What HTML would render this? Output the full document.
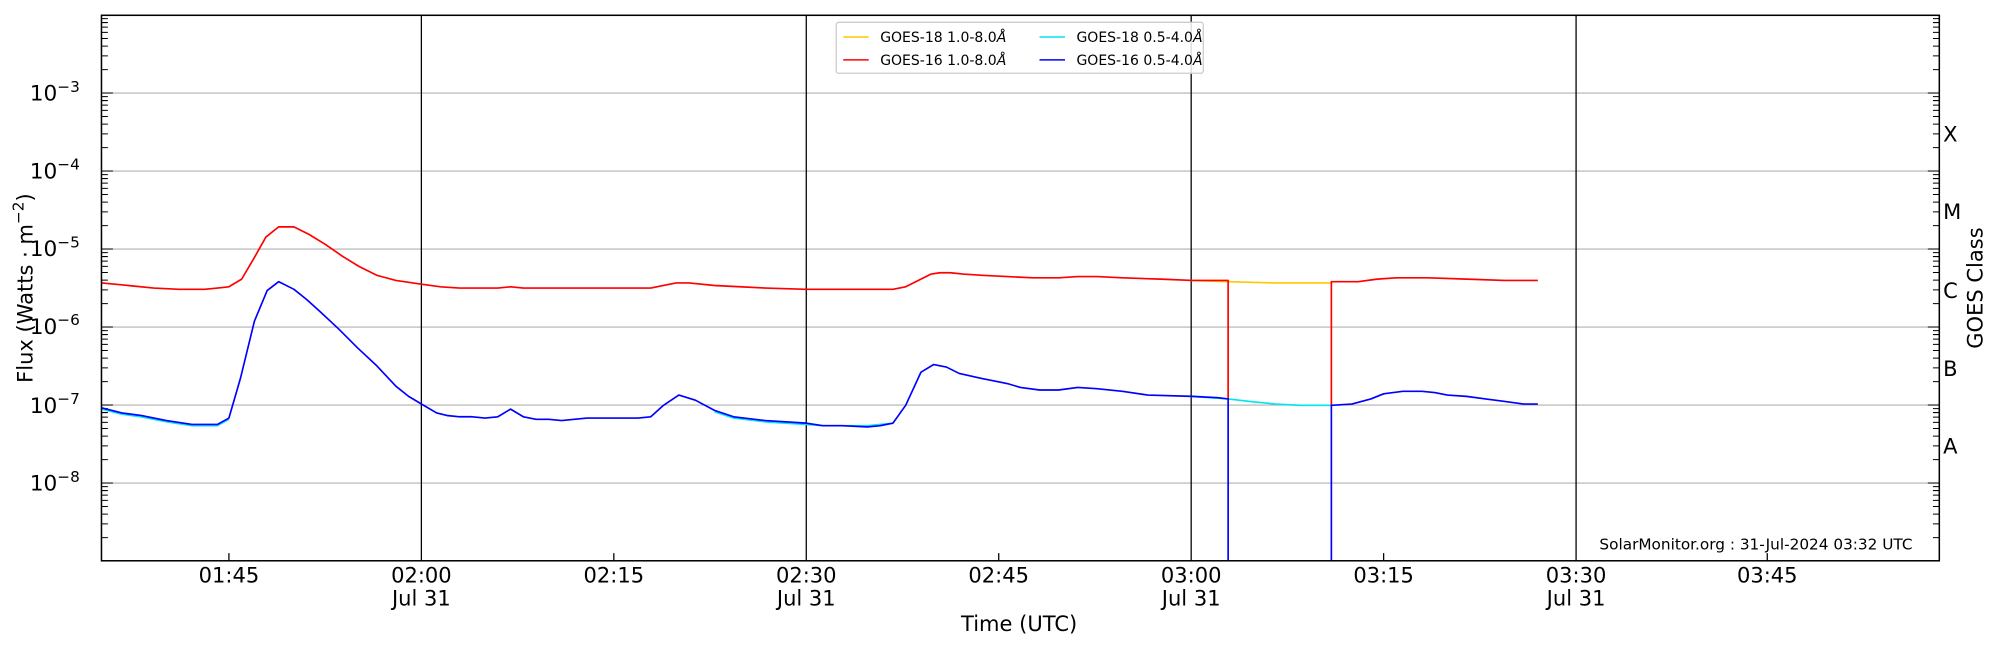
<!DOCTYPE html>
<html><head><meta charset="utf-8"><style>
html,body{margin:0;padding:0;background:#fff;}
svg{display:block;font-family:"DejaVu Sans","Liberation Sans",sans-serif;}
</style></head><body>
<svg id="s" width="2000" height="650" viewBox="0 0 1568 510" xmlns="http://www.w3.org/2000/svg">
<rect width="1568" height="510" fill="#fff"/>
<g stroke="#b0b0b0" stroke-width="0.9">
<line x1="79" x2="1521" y1="73" y2="73"/><line x1="79" x2="1521" y1="134.2" y2="134.2"/>
<line x1="79" x2="1521" y1="195.4" y2="195.4"/><line x1="79" x2="1521" y1="256.6" y2="256.6"/>
<line x1="79" x2="1521" y1="317.8" y2="317.8"/><line x1="79" x2="1521" y1="379" y2="379"/>
</g>
<g stroke="#000" stroke-width="1">
<line x1="330" x2="330" y1="12" y2="440"/><line x1="632" x2="632" y1="12" y2="440"/>
<line x1="934" x2="934" y1="12" y2="440"/><line x1="1236" x2="1236" y1="12" y2="440"/>
<line x1="179" x2="179" y1="440" y2="434"/><line x1="481" x2="481" y1="440" y2="434"/>
<line x1="783" x2="783" y1="440" y2="434"/><line x1="1085" x2="1085" y1="440" y2="434"/>
<line x1="1386" x2="1386" y1="440" y2="434"/>
</g>
<g id="ticks" stroke="#000" stroke-width="0.8"></g>
<g fill="none" stroke-width="1.3" stroke-linejoin="round">
<polyline stroke="#ffc800" points="934,220 963,221 980,221.5 1000,222 1020,222 1044,222"/>
<polyline stroke="#00e5ee" points="79,321 95,325 110,327 130,331 150,334 170,334 179,329"/>
<polyline stroke="#00e5ee" points="560,323 575,328 600,331 632,333 645,334 660,334 680,334 700,332"/>
<polyline stroke="#00e5ee" points="934,311 963,313 980,315 1000,317 1020,318 1044,318"/>
<polyline stroke="#ff0000" points="79,222 100,224 120,226 140,227 160,227 170,226 179,225 189,219 199,202 208,186 218,178 230,178 242,184 255,192 268,201 281,209 295,216 310,220 330,223 345,225 360,226 375,226 390,226 400,225 410,226 430,226 460,226 480,226 510,226 520,224 530,222 540,222 560,224 580,225 600,226 632,227 660,227 700,227 710,225 720,220 730,215 737,214 745,214 755,215 770,216 790,217 810,218 830,218 845,217 860,217 880,218 910,219 935,220 963,220 963,313"/>
<polyline stroke="#ff0000" points="1044,318 1044,221 1065,221 1080,219 1095,218 1120,218 1150,219 1180,220 1206,220"/>
<polyline stroke="#0000ff" points="79,320 95,324 110,326 130,330 150,333 170,333 179,328 188,297 199,252 209,228 218,221 230,227 240,235 250,244 265,258 280,273 295,287 310,303 320,311 330,317 342,324 350,326 360,327 370,327 380,328 390,327 400,321 410,327 420,329 430,329 440,330 450,329 460,328 480,328 500,328 510,327 520,318 532,310 545,314 560,322 575,327 600,330 632,332 645,334 660,334 680,335 690,334 700,332 710,318 722,292 732,286 742,288 752,293 770,297 790,301 800,304 815,306 830,306 845,304 860,305 880,307 900,310 935,311 955,312 963,313 963,440"/>
<polyline stroke="#0000ff" points="1044,440 1044,318 1060,317 1075,313 1085,309 1100,307 1115,307 1125,308 1135,310 1150,311 1165,313 1180,315 1195,317 1206,317"/>
</g>
<rect x="79" y="12" width="1442" height="428" fill="none" stroke="#000" stroke-width="1.2"/>
<g font-size="17" text-anchor="end" fill="#000">
<text x="62" y="79">10<tspan font-size="12" dy="-7">−3</tspan></text>
<text x="62" y="140">10<tspan font-size="12" dy="-7">−4</tspan></text>
<text x="62" y="201">10<tspan font-size="12" dy="-7">−5</tspan></text>
<text x="62" y="262">10<tspan font-size="12" dy="-7">−6</tspan></text>
<text x="62" y="324">10<tspan font-size="12" dy="-7">−7</tspan></text>
<text x="62" y="385">10<tspan font-size="12" dy="-7">−8</tspan></text>
</g>
<g font-size="16.5" text-anchor="middle" fill="#000">
<text x="179" y="457">01:45</text>
<text x="330" y="457">02:00</text><text x="330" y="475">Jul 31</text>
<text x="481" y="457">02:15</text>
<text x="632" y="457">02:30</text><text x="632" y="475">Jul 31</text>
<text x="783" y="457">02:45</text>
<text x="934" y="457">03:00</text><text x="934" y="475">Jul 31</text>
<text x="1085" y="457">03:15</text>
<text x="1236" y="457">03:30</text><text x="1236" y="475">Jul 31</text>
<text x="1386" y="457">03:45</text>
<text x="799" y="495">Time (UTC)</text>
<text transform="translate(25,226) rotate(-90)">Flux (Watts · m<tspan font-size="12" dy="-7">−2</tspan><tspan dy="7">)</tspan></text>
<text transform="translate(1555,226) rotate(-90)">GOES Class</text>
</g>
<g font-size="16.5" fill="#000">
<text x="1524" y="111">X</text><text x="1524" y="172">M</text><text x="1524" y="234">C</text>
<text x="1524" y="295">B</text><text x="1524" y="356">A</text>
</g>
<text x="1500" y="431" font-size="12" text-anchor="end">SolarMonitor.org : 31-Jul-2024 03:32 UTC</text>
<rect x="655.5" y="17.5" width="288" height="40" fill="#fff" fill-opacity="0.85" stroke="#ccc" rx="2"/>
<g stroke-width="1.2">
<line x1="661" x2="681" y1="29" y2="29" stroke="#ffc800"/>
<line x1="661" x2="681" y1="47" y2="47" stroke="#ff0000"/>
<line x1="815" x2="835" y1="29" y2="29" stroke="#00e5ee"/>
<line x1="815" x2="835" y1="47" y2="47" stroke="#0000ff"/>
</g>
<g font-size="11" fill="#000">
<text x="690" y="33">GOES-18 1.0-8.0<tspan font-style="italic">Å</tspan></text>
<text x="690" y="51">GOES-16 1.0-8.0<tspan font-style="italic">Å</tspan></text>
<text x="844" y="33">GOES-18 0.5-4.0<tspan font-style="italic">Å</tspan></text>
<text x="844" y="51">GOES-16 0.5-4.0<tspan font-style="italic">Å</tspan></text>
</g>
</svg>
<script>
(function(){
var g=document.getElementById('ticks'),d='';
var D=61.2,base=440.2;
for(var e=0;e<7;e++){
 var y0=base-e*D;
 if(e>0){d+='M79 '+y0+'h9M1521 '+y0+'h-9';}
 for(var k=2;k<=9;k++){var y=y0-Math.log10(k)*D;if(y<12)continue;d+='M79 '+y.toFixed(1)+'h5M1521 '+y.toFixed(1)+'h-5';}
}
var p=document.createElementNS('http://www.w3.org/2000/svg','path');
p.setAttribute('d',d);g.appendChild(p);
})();
</script>
</body></html>
